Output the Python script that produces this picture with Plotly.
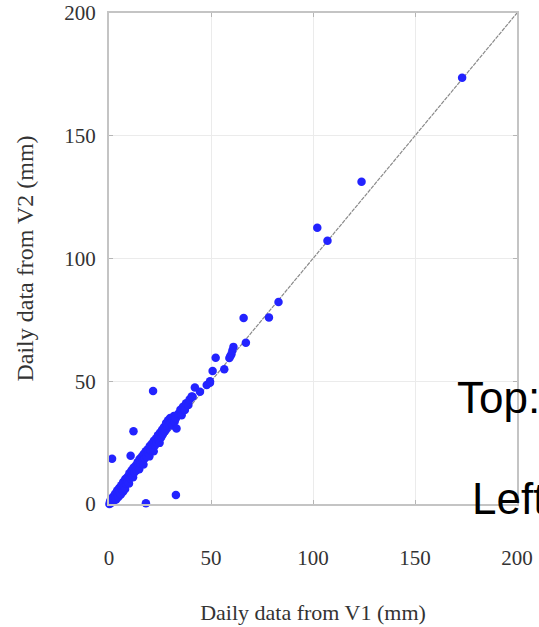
import plotly.graph_objects as go

# Daily data from V1 (x) and V2 (y), mm
v1 = [0.2, 0.5, 0.8, 1.0, 1.3, 1.6, 2.0, 2.2, 2.5, 3.0, 3.2, 3.5, 4.0, 4.2, 4.6,
      5.0, 5.3, 5.8, 6.0, 6.4, 6.9, 7.0, 7.5, 7.9, 8.0, 8.5, 9.0, 9.2, 9.8, 10.0,
      10.4, 11.0, 11.3, 11.8, 12.0, 12.5, 13.0, 13.4, 14.0, 14.3, 14.8, 15.0, 15.5,
      16.0, 16.4, 16.9, 17.0, 17.6, 18.0, 18.4, 19.0, 19.3, 19.8, 20.0, 20.5, 21.0,
      21.4, 21.9, 22.0, 22.6, 23.0, 23.5, 24.0, 24.3, 24.8, 25.0, 25.6, 26.0, 26.4,
      27.0, 27.3, 28.0, 28.2, 28.7, 29.0, 29.5, 30.0, 30.4, 31.0, 31.3, 31.8, 32.2,
      32.8, 33.1, 34.0, 35.0, 35.5, 35.6, 36.3, 37.2, 37.8, 38.9, 39.5, 40.5, 41.0,
      42.1, 44.6, 47.9, 49.5, 49.5, 50.8, 52.3, 56.5, 59.0, 59.5, 60.0, 60.5, 61.0,
      67.1, 66.0, 78.4, 83.1, 102.1, 107.1, 123.8, 173.1,
      21.6, 12.0, 10.6, 1.5, 32.8, 18.1]
v2 = [0.0, 1.0, 0.3, 2.0, 0.8, 1.5, 3.0, 1.2, 2.2, 4.2, 2.6, 1.8, 5.5, 3.8, 2.9,
      6.5, 4.6, 3.9, 7.6, 5.8, 5.0, 9.0, 7.0, 6.1, 10.2, 8.3, 11.0, 9.0, 8.4, 12.5,
      10.6, 13.6, 11.5, 10.9, 14.8, 12.9, 15.6, 13.8, 17.0, 15.0, 14.2, 18.3, 16.4,
      19.2, 17.3, 16.1, 20.4, 18.6, 21.5, 19.5, 22.3, 20.6, 19.4, 23.6, 21.8, 24.5,
      22.9, 21.5, 25.8, 23.9, 26.7, 25.0, 28.0, 26.1, 24.9, 29.0, 27.2, 30.2, 28.4,
      31.4, 29.5, 33.0, 30.6, 31.9, 34.1, 32.4, 35.0, 33.1, 34.5, 32.0, 35.8, 33.6,
      34.9, 30.8, 36.8, 38.4, 37.0, 36.2, 39.6, 38.3, 41.0, 40.3, 42.6, 43.8, 43.7,
      47.5, 45.7, 48.5, 50.0, 49.4, 54.2, 59.6, 54.9, 59.5, 60.3, 61.0, 62.5, 64.0,
      65.7, 75.8, 76.0, 82.3, 112.5, 107.2, 131.3, 173.6,
      46.0, 29.6, 19.7, 18.4, 3.7, 0.3]

line_xy = [0, 200]
tick_vals = [0, 50, 100, 150, 200]
tick_text = ["0", "50", "100", "150", "200"]

serif = "Liberation Serif, Times New Roman, serif"

fig = go.Figure()
fig.add_trace(go.Scatter(x=line_xy, y=line_xy, mode="lines",
                         line=dict(color="#8a8a8a", width=1.2, dash="4px,1px"),
                         hoverinfo="skip", showlegend=False))
fig.add_trace(go.Scatter(x=v1, y=v2, mode="markers", cliponaxis=False,
                         marker=dict(color="#2323ff", size=8.5, line=dict(width=0)),
                         showlegend=False))

axis_common = dict(range=[0, 200], tickvals=tick_vals, ticktext=tick_text,
                   showgrid=True, gridcolor="#ebebeb", gridwidth=1,
                   showline=True, linecolor="#c4c4c4", linewidth=2, mirror="ticks",
                   ticks="inside", ticklen=4, tickcolor="#b5b5b5",
                   zeroline=False, ticklabeloverflow="allow",
                   tickfont=dict(family=serif, size=21, color="#333333"))

fig.update_xaxes(**axis_common, ticklabelstandoff=34,
                 title=dict(text="Daily data from V1 (mm)", standoff=35,
                            font=dict(family=serif, size=22, color="#333333")))
fig.update_yaxes(**axis_common, ticklabelstandoff=7,
                 title=dict(text="Daily data from V2 (mm)", standoff=24,
                            font=dict(family=serif, size=24, color="#333333")))

fig.add_annotation(text="Top:", xref="paper", yref="paper", x=(455 - 109) / 408,
                   y=(504 - 397) / 491, xanchor="left", yanchor="middle", showarrow=False,
                   font=dict(family="Liberation Sans, Arial, sans-serif", size=44, color="#000000"))
fig.add_annotation(text="Left", xref="paper", yref="paper", x=(470 - 109) / 408,
                   y=(504 - 498) / 491, xanchor="left", yanchor="middle", showarrow=False,
                   font=dict(family="Liberation Sans, Arial, sans-serif", size=44, color="#000000"))

fig.update_layout(width=539, height=627,
                  margin=dict(l=109, r=22, t=13, b=123, autoexpand=False),
                  paper_bgcolor="white", plot_bgcolor="white")

fig.write_html("out.html", config={"displayModeBar": False},
               post_script="document.body.style.margin='0';document.body.style.overflow='hidden';")
